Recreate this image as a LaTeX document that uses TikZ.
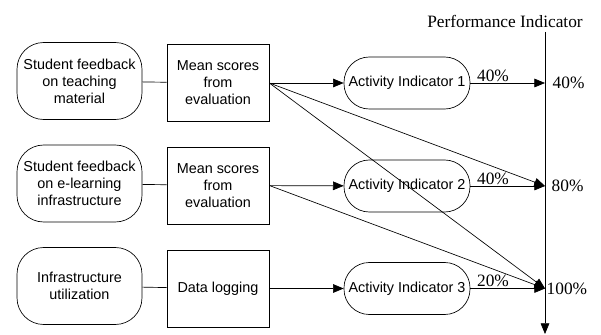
\documentclass[tikz,border=0pt]{standalone}
\usepackage{fontspec}
\setmainfont{Liberation Serif}
\setsansfont{Liberation Sans}
\usetikzlibrary{arrows.meta}
\tikzset{
  sourcebox/.style={draw,rounded corners=20pt,minimum width=125*0.75pt,minimum height=77*0.75pt,
    inner sep=0pt,align=center,font=\sffamily\fontsize{10.8}{12.8}\selectfont},
  methodbox/.style={draw,minimum width=102*0.75pt,minimum height=77*0.75pt,
    inner sep=0pt,align=center,font=\sffamily\fontsize{10.8}{12.8}\selectfont},
  activitybox/.style={draw,rounded corners=19pt,minimum width=126*0.75pt,minimum height=52*0.75pt,
    inner sep=0pt,font=\sffamily\fontsize{10.8}{12.8}\selectfont},
  weight/.style={font=\fontsize{13}{15}\selectfont,inner sep=1pt},
  tip/.style={-{Triangle[length=8pt,width=6.5pt]}}
}
\begin{document}
\begin{tikzpicture}[x=0.75pt,y=-0.75pt,line width=0.5pt]
      \useasboundingbox (0,0) rectangle (601,335);

      \begin{scope}[every node/.style={sourcebox}]
        \node (s1) at (79.5,81)  {Student feedback\\on teaching\\material};
        \node (s2) at (79.5,183.5) {Student feedback\\on e-learning\\infrastructure};
        \node (s3) at (79.5,286) {Infrastructure\\utilization};
      \end{scope}

      \begin{scope}[every node/.style={methodbox}]
        \node (m1) at (218,83)    {Mean scores\\from\\evaluation};
        \node (m2) at (218,185.5) {Mean scores\\from\\evaluation};
        \node (m3) at (218,288.5) {Data logging};
      \end{scope}

      \begin{scope}[every node/.style={activitybox}]
        \node (a1) at (407,83)    {Activity Indicator 1};
        \node (a2) at (407,186)   {Activity Indicator 2};
        \node (a3) at (407,288.5) {Activity Indicator 3};
      \end{scope}

      % performance axis
      \coordinate (top) at (545,32);
      \coordinate (bot) at (545,334);
      \coordinate (p1)  at (545,83);
      \coordinate (p2)  at (545,186);
      \coordinate (p3)  at (545,288.5);
      \draw[tip] (top) -- (bot);
      \node[font=\fontsize{13}{15}\selectfont] (title) at (505,21) {Performance Indicator};

      \begin{scope}[every node/.style={weight,anchor=west}]
        \node (w1) at (551,83)    {40\%};
        \node (w2) at (550,186)   {80\%};
        \node (w3) at (545,288.5) {100\%};
      \end{scope}

      \begin{scope}[every edge/.style={draw}]
        \path (s1) edge (m1);
        \path (s2) edge (m2);
        \path (s3) edge (m3);
      \end{scope}

      \begin{scope}[every edge/.style={draw,tip}]
        \path (m1) edge (a1);
        \path (m2) edge (a2);
        \path (m3) edge (a3);
        \path (m1.east) edge (p2);
        \path (m1.east) edge (p3);
        \path (m2.east) edge (p3);
        \path (a1) edge node[weight,above,xshift=-11pt] {40\%} (p1);
        \path (a2) edge node[weight,above,xshift=-11pt] {40\%} (p2);
        \path (a3) edge node[weight,above,xshift=-11pt] {20\%} (p3);
      \end{scope}

    \end{tikzpicture}
\end{document}
